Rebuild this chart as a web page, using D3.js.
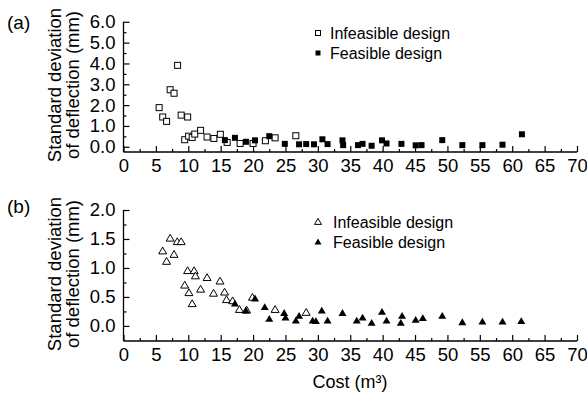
<!DOCTYPE html>
<html>
<head>
<meta charset="utf-8">
<script src="https://cdn.jsdelivr.net/npm/d3@7"></script>
<style>
  body { margin: 0; background: #fff; }
  svg text { font-family: "Liberation Sans", Arial, sans-serif; fill: #000; }
</style>
</head>
<body>
<svg id="chart" width="587" height="394"></svg>
<script>
// cost (m3) and standard deviation of deflection (mm)
const aInfeasible = [
  [5.5, 1.88], [6.05, 1.43], [6.65, 1.22], [7.2, 2.74], [7.8, 2.57], [8.35, 3.91],
  [8.9, 1.52], [9.9, 1.43], [9.45, 0.34], [10.05, 0.51], [10.6, 0.45], [11.0, 0.61],
  [11.9, 0.79], [12.9, 0.47], [13.95, 0.40], [14.95, 0.60], [16.0, 0.21], [18.0, 0.16],
  [20.0, 0.16], [21.9, 0.29], [23.4, 0.43], [26.6, 0.53]
];
const aFeasible = [
  [15.65, 0.32], [17.2, 0.43], [18.9, 0.24], [20.3, 0.31], [22.5, 0.51], [24.9, 0.14],
  [27.1, 0.12], [28.2, 0.13], [29.4, 0.12], [30.7, 0.36], [31.5, 0.13], [33.8, 0.31],
  [33.9, 0.08], [36.2, 0.08], [36.9, 0.14], [38.3, 0.05], [39.9, 0.31], [40.6, 0.16],
  [42.9, 0.14], [45.1, 0.07], [46.0, 0.08], [49.2, 0.32], [52.3, 0.08], [55.4, 0.08],
  [58.5, 0.10], [61.5, 0.60]
];
const bInfeasible = [
  [6.05, 1.29], [6.65, 1.11], [7.2, 1.51], [7.8, 1.23], [8.3, 1.45], [8.9, 1.45],
  [9.45, 0.70], [9.9, 0.95], [10.1, 0.57], [10.6, 0.38], [10.9, 0.95], [11.1, 0.86],
  [11.9, 0.63], [12.9, 0.83], [13.9, 0.56], [14.9, 0.77], [15.6, 0.58], [15.9, 0.45],
  [16.85, 0.43], [17.9, 0.28], [19.0, 0.27], [19.9, 0.49], [23.4, 0.28], [28.2, 0.23]
];
const bFeasible = [
  [17.2, 0.38], [18.9, 0.26], [20.3, 0.47], [21.8, 0.32], [22.5, 0.12], [24.8, 0.22],
  [25.0, 0.14], [26.6, 0.09], [27.1, 0.17], [29.2, 0.09], [29.7, 0.08], [30.6, 0.26],
  [31.5, 0.09], [33.8, 0.22], [36.0, 0.09], [36.9, 0.14], [38.3, 0.05], [39.9, 0.24],
  [40.6, 0.09], [43.0, 0.17], [42.8, 0.05], [45.1, 0.10], [46.2, 0.13], [49.2, 0.17],
  [52.3, 0.06], [55.4, 0.07], [58.5, 0.07], [61.4, 0.08]
];
const xTicks = d3.range(0, 71, 5);
const aYTicks = [0, 1, 2, 3, 4, 5, 6];
const bYTicks = [0, 0.5, 1, 1.5, 2];
const legendLabels = ["Infeasible design", "Feasible design"];

const svg = d3.select("#chart");
const x = d3.scaleLinear().domain([0, 70]).range([123.5, 577]);

function triPath(cx, cy, w) {
  const h = w * 0.85;
  return `M${cx},${cy - h * 0.6}L${cx + w / 2},${cy + h * 0.4}L${cx - w / 2},${cy + h * 0.4}Z`;
}

function panel(opts) {
  const y = d3.scaleLinear().domain(opts.yDomain).range(opts.yRange);
  const g = svg.append("g");

  // x axis, ticks pointing up into the plot
  const xg = g.append("g").attr("transform", `translate(0,${opts.yRange[0]})`);
  xg.call(d3.axisBottom(x).tickValues(xTicks).tickSizeInner(-6).tickSizeOuter(0)
    .tickPadding(7).tickFormat(d3.format("d")));
  xg.append("g").call(d3.axisBottom(x).tickValues(d3.range(2.5, 70, 5))
    .tickSize(-3).tickFormat(""));
  xg.selectAll("path.domain").remove();
  xg.append("line").attr("x1", x(0)).attr("x2", x(70)).attr("stroke", "#000").attr("stroke-width", 1.3);

  // y axis, ticks pointing right
  const yg = g.append("g").attr("transform", `translate(${x(0)},0)`);
  yg.call(d3.axisLeft(y).tickValues(opts.yTicks).tickSizeInner(-6).tickSizeOuter(0)
    .tickPadding(8).tickFormat(d3.format(".1f")));
  yg.append("g").call(d3.axisLeft(y).tickValues(opts.yMinor).tickSize(-3).tickFormat(""));
  yg.selectAll("path.domain").remove();
  yg.append("line").attr("y1", opts.yRange[0]).attr("y2", y(opts.yDomain[1]))
    .attr("stroke", "#000").attr("stroke-width", 1.3);

  g.selectAll(".tick line").attr("stroke", "#000").attr("stroke-width", 1.2);
  g.selectAll(".tick text").style("font-size", "18.5px").attr("fill", "#000");

  // points
  if (opts.shape === "square") {
    const s = 6;
    g.selectAll(".inf").data(opts.inf).join("rect")
      .attr("x", d => x(d[0]) - s / 2).attr("y", d => y(d[1]) - s / 2)
      .attr("width", s).attr("height", s)
      .attr("fill", "#fff").attr("stroke", "#000").attr("stroke-width", 1);
    g.selectAll(".fea").data(opts.fea).join("rect")
      .attr("x", d => x(d[0]) - s / 2).attr("y", d => y(d[1]) - s / 2)
      .attr("width", s).attr("height", s).attr("fill", "#000");
  } else {
    g.selectAll(".inf").data(opts.inf).join("path")
      .attr("d", d => triPath(x(d[0]), y(d[1]), 8))
      .attr("fill", "#fff").attr("stroke", "#000").attr("stroke-width", 1);
    g.selectAll(".fea").data(opts.fea).join("path")
      .attr("d", d => triPath(x(d[0]), y(d[1]), 8)).attr("fill", "#000");
  }

  // legend
  const lg = g.append("g");
  legendLabels.forEach((lab, i) => {
    const ly = opts.legendY + i * 20;
    if (opts.shape === "square") {
      lg.append("rect").attr("x", 318 - 2.5).attr("y", ly - 2.5).attr("width", 5).attr("height", 5)
        .attr("fill", i ? "#000" : "#fff").attr("stroke", "#000").attr("stroke-width", i ? 0 : 1);
    } else {
      lg.append("path").attr("d", triPath(318, ly, 7))
        .attr("fill", i ? "#000" : "#fff").attr("stroke", "#000").attr("stroke-width", i ? 0 : 1);
    }
    lg.append("text").attr("x", opts.legendX).attr("y", ly + 5.5)
      .style("font-size", "16px").text(lab);
  });

  // y title and panel letter
  const mid = opts.titleY;
  g.append("text").attr("transform", `translate(61,${mid}) rotate(-90)`)
    .attr("text-anchor", "middle").style("font-size", "18.5px").text("Standard deviation");
  g.append("text").attr("transform", `translate(79,${mid}) rotate(-90)`)
    .attr("text-anchor", "middle").style("font-size", "18.5px").text("of deflection (mm)");
  g.append("text").attr("x", 7).attr("y", opts.letterY).style("font-size", "19px").text(opts.letter);
}

panel({
  yDomain: [-0.25, 6], yRange: [152, 21.8], yTicks: aYTicks, yMinor: d3.range(0.5, 6, 1),
  shape: "square", inf: aInfeasible, fea: aFeasible,
  legendX: 330, legendY: 33, titleY: 85, letter: "(a)", letterY: 29
});
panel({
  yDomain: [-0.26, 2], yRange: [341, 210], yTicks: bYTicks, yMinor: d3.range(0.25, 2, 0.5),
  shape: "triangle", inf: bInfeasible, fea: bFeasible,
  legendX: 333, legendY: 222, titleY: 274, letter: "(b)", letterY: 213
});

svg.append("text").attr("x", 350).attr("y", 388).attr("text-anchor", "middle")
  .style("font-size", "18px").text("Cost (m³)");
</script>
</body>
</html>
